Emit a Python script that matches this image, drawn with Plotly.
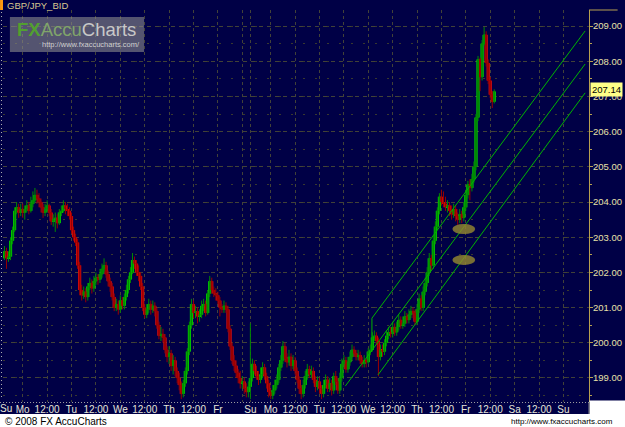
import plotly.graph_objects as go

# ---------------- data (hourly bars) ----------------
open_ = [
    202.40, 202.50, 202.60, 202.40, 202.45, 202.90, 203.20, 203.75, 203.85, 203.70,
    203.80, 203.70, 203.80, 203.90, 203.75, 203.95, 204.05, 204.20, 204.10, 204.00,
    203.85, 203.70, 203.80, 203.90, 203.70, 203.45, 203.50, 203.55, 203.40, 203.70,
    203.75, 203.90, 203.80, 203.75, 203.60, 203.20, 203.00, 202.85, 202.20, 201.50,
    201.35, 201.45, 201.30, 201.60, 201.70, 201.55, 201.75, 201.85, 201.80, 201.95,
    202.10, 202.20, 201.95, 201.75, 201.60, 201.30, 201.00, 201.10, 200.95, 201.20,
    201.05, 201.30, 201.50, 201.80, 202.00, 202.35, 202.25, 202.00, 201.90, 201.60,
    201.00, 200.80, 200.95, 201.10, 200.95, 201.05, 200.90, 200.50, 200.20, 200.25,
    200.15, 199.80, 199.60, 199.70, 199.35, 199.50, 199.20, 199.00, 198.80, 198.55,
    198.85, 199.20, 199.75, 200.50, 201.10, 200.85, 200.90, 200.75, 200.80, 201.05,
    201.10, 200.85, 201.40, 201.75, 201.50, 201.40, 201.35, 201.20, 201.00, 200.95,
    201.05, 200.95, 200.40, 199.90, 199.50, 199.35, 199.15, 199.00, 198.85, 198.90,
    198.70, 198.60, 198.75, 199.00, 199.40, 199.20, 199.05, 198.95, 199.10, 199.30,
    199.05, 198.85, 198.60, 198.50, 198.65, 198.80, 198.95, 199.30, 199.50, 199.90,
    199.55, 199.45, 199.60, 199.35, 199.50, 199.20, 198.95, 198.70, 198.55, 198.80,
    199.05, 199.25, 199.10, 199.20, 198.95, 198.75, 198.90, 198.70, 198.55, 198.80,
    198.95, 198.70, 198.85, 198.65, 199.05, 198.90, 198.65, 199.00, 199.40, 199.50,
    199.25, 199.45, 199.60, 199.80, 199.70, 199.60, 199.65, 199.50, 199.40, 199.50,
    199.45, 199.75, 199.80, 200.15, 200.20, 200.05, 199.60, 199.80, 199.75, 200.00,
    200.20, 200.30, 200.25, 200.45, 200.30, 200.45, 200.65, 200.50, 200.55, 200.75,
    200.65, 200.80, 200.90, 200.85, 200.60, 200.95, 201.25, 201.00, 201.45, 201.70,
    202.00, 202.40, 202.20, 202.90, 203.30, 203.75, 204.15, 204.00, 203.95, 203.85,
    203.90, 203.75, 203.65, 203.80, 203.60, 203.50, 203.65, 203.55, 203.85, 204.20,
    204.50, 204.40, 204.65, 205.00, 206.40, 208.05, 207.55, 208.50, 208.75, 207.95,
    207.45, 207.05, 206.85,
]
high = [
    202.70, 202.75, 202.70, 202.60, 203.00, 203.30, 203.85, 204.00, 203.95, 203.95,
    203.95, 203.90, 204.05, 204.00, 204.15, 204.30, 204.40, 204.35, 204.25, 204.10,
    203.95, 203.95, 204.05, 203.95, 203.80, 203.65, 203.70, 203.65, 203.80, 203.90,
    204.05, 204.00, 203.95, 203.85, 203.70, 203.30, 203.10, 202.95, 202.30, 201.65,
    201.60, 201.55, 201.70, 201.85, 201.80, 201.90, 202.00, 201.95, 202.10, 202.25,
    202.40, 202.30, 202.05, 201.85, 201.70, 201.40, 201.25, 201.20, 201.35, 201.30,
    201.40, 201.65, 201.90, 202.15, 202.55, 202.45, 202.35, 202.20, 202.00, 201.70,
    201.10, 201.10, 201.25, 201.20, 201.20, 201.15, 201.00, 200.60, 200.45, 200.40,
    200.25, 199.90, 199.90, 199.80, 199.65, 199.60, 199.30, 199.15, 198.90, 198.95,
    199.30, 199.85, 200.60, 201.25, 201.20, 201.05, 201.00, 200.95, 201.20, 201.25,
    201.20, 201.50, 201.90, 201.85, 201.60, 201.55, 201.45, 201.30, 201.10, 201.20,
    201.15, 201.05, 200.50, 200.00, 199.65, 199.50, 199.25, 199.20, 199.05, 199.00,
    198.85, 198.90, 200.55, 199.55, 199.50, 199.35, 199.20, 199.30, 199.45, 199.40,
    199.15, 198.95, 198.70, 198.80, 198.95, 199.10, 199.40, 199.65, 200.05, 200.00,
    199.70, 199.80, 199.70, 199.65, 199.60, 199.30, 199.05, 198.80, 198.95, 199.20,
    199.40, 199.35, 199.35, 199.30, 199.05, 199.05, 199.00, 198.80, 198.95, 199.10,
    199.05, 199.00, 198.95, 199.15, 199.20, 199.00, 199.15, 199.55, 199.65, 199.60,
    199.60, 199.75, 199.95, 199.90, 199.80, 199.80, 199.75, 199.60, 199.65, 199.55,
    199.85, 199.95, 200.30, 200.35, 200.30, 200.15, 199.95, 199.95, 200.10, 200.35,
    200.45, 200.45, 200.60, 200.55, 200.60, 200.80, 200.75, 200.75, 200.90, 200.85,
    200.95, 201.05, 201.00, 200.95, 201.10, 201.40, 201.35, 201.60, 201.85, 202.15,
    202.55, 202.50, 203.05, 203.45, 203.85, 204.25, 204.35, 204.30, 204.15, 204.05,
    204.00, 203.90, 203.95, 203.90, 203.70, 203.80, 203.75, 204.00, 204.35, 204.60,
    204.65, 204.80, 205.15, 206.50, 208.15, 208.10, 208.60, 208.97, 208.85, 208.05,
    207.55, 207.15, 207.20,
]
low = [
    202.20, 202.35, 202.10, 202.30, 202.35, 202.80, 203.15, 203.65, 203.55, 203.60,
    203.55, 203.50, 203.70, 203.65, 203.70, 203.85, 204.00, 203.95, 203.85, 203.70,
    203.55, 203.60, 203.70, 203.60, 203.35, 203.30, 203.15, 203.25, 203.35, 203.60,
    203.70, 203.65, 203.60, 203.50, 203.10, 202.90, 202.75, 202.10, 201.35, 201.20,
    201.25, 201.15, 201.20, 201.50, 201.40, 201.45, 201.65, 201.65, 201.70, 201.85,
    202.00, 201.85, 201.60, 201.45, 201.20, 200.90, 200.90, 200.80, 200.85, 200.95,
    200.95, 201.20, 201.40, 201.70, 201.95, 202.10, 201.90, 201.75, 201.50, 200.90,
    200.70, 200.70, 200.85, 200.80, 200.85, 200.75, 200.40, 200.10, 200.05, 200.00,
    199.70, 199.45, 199.40, 199.20, 199.10, 199.05, 198.85, 198.65, 198.40, 198.45,
    198.75, 199.10, 199.65, 200.40, 200.70, 200.70, 200.55, 200.60, 200.70, 200.90,
    200.75, 200.80, 201.30, 201.40, 201.30, 201.20, 201.10, 200.75, 200.85, 200.85,
    200.85, 200.30, 199.80, 199.40, 199.20, 199.00, 198.85, 198.70, 198.70, 198.55,
    198.45, 198.45, 198.40, 198.90, 199.10, 198.95, 198.80, 198.85, 199.00, 198.95,
    198.70, 198.45, 198.40, 198.40, 198.55, 198.70, 198.85, 199.20, 199.40, 199.45,
    199.30, 199.35, 199.20, 199.25, 199.10, 198.85, 198.55, 198.40, 198.45, 198.70,
    198.95, 199.00, 199.00, 198.85, 198.60, 198.65, 198.55, 198.40, 198.45, 198.70,
    198.60, 198.60, 198.50, 198.55, 198.80, 198.55, 198.55, 198.90, 199.30, 199.15,
    199.15, 199.35, 199.50, 199.60, 199.50, 199.50, 199.40, 199.30, 199.30, 199.30,
    199.40, 199.65, 199.75, 200.05, 199.95, 199.05, 199.50, 199.60, 199.65, 199.90,
    200.10, 200.15, 200.15, 200.20, 200.20, 200.35, 200.40, 200.40, 200.45, 200.55,
    200.55, 200.70, 200.70, 200.50, 200.50, 200.85, 200.90, 200.90, 201.35, 201.60,
    201.90, 202.05, 202.10, 202.80, 203.20, 203.65, 203.90, 203.85, 203.75, 203.70,
    203.60, 203.50, 203.55, 203.45, 203.35, 203.40, 203.40, 203.45, 203.75, 204.10,
    204.05, 204.30, 204.55, 204.90, 206.30, 207.15, 207.45, 208.45, 207.85, 207.35,
    206.95, 206.67, 206.80,
]
close = [
    202.50, 202.60, 202.40, 202.45, 202.90, 203.20, 203.75, 203.85, 203.70, 203.80,
    203.70, 203.80, 203.90, 203.75, 203.95, 204.05, 204.20, 204.10, 204.00, 203.85,
    203.70, 203.80, 203.90, 203.70, 203.45, 203.50, 203.55, 203.40, 203.70, 203.75,
    203.90, 203.80, 203.75, 203.60, 203.20, 203.00, 202.85, 202.20, 201.50, 201.35,
    201.45, 201.30, 201.60, 201.70, 201.55, 201.75, 201.85, 201.80, 201.95, 202.10,
    202.20, 201.95, 201.75, 201.60, 201.30, 201.00, 201.10, 200.95, 201.20, 201.05,
    201.30, 201.50, 201.80, 202.00, 202.35, 202.25, 202.00, 201.90, 201.60, 201.00,
    200.80, 200.95, 201.10, 200.95, 201.05, 200.90, 200.50, 200.20, 200.25, 200.15,
    199.80, 199.60, 199.70, 199.35, 199.50, 199.20, 199.00, 198.80, 198.55, 198.85,
    199.20, 199.75, 200.50, 201.10, 200.85, 200.90, 200.75, 200.80, 201.05, 201.10,
    200.85, 201.40, 201.75, 201.50, 201.40, 201.35, 201.20, 201.00, 200.95, 201.05,
    200.95, 200.40, 199.90, 199.50, 199.35, 199.15, 199.00, 198.85, 198.90, 198.70,
    198.60, 198.75, 199.00, 199.40, 199.20, 199.05, 198.95, 199.10, 199.30, 199.05,
    198.85, 198.60, 198.50, 198.65, 198.80, 198.95, 199.30, 199.50, 199.90, 199.55,
    199.45, 199.60, 199.35, 199.50, 199.20, 198.95, 198.70, 198.55, 198.80, 199.05,
    199.25, 199.10, 199.20, 198.95, 198.75, 198.90, 198.70, 198.55, 198.80, 198.95,
    198.70, 198.85, 198.65, 199.05, 198.90, 198.65, 199.00, 199.40, 199.50, 199.25,
    199.45, 199.60, 199.80, 199.70, 199.60, 199.65, 199.50, 199.40, 199.50, 199.45,
    199.75, 199.80, 200.15, 200.20, 200.05, 199.60, 199.80, 199.75, 200.00, 200.20,
    200.30, 200.25, 200.45, 200.30, 200.45, 200.65, 200.50, 200.55, 200.75, 200.65,
    200.80, 200.90, 200.85, 200.60, 200.95, 201.25, 201.00, 201.45, 201.70, 202.00,
    202.40, 202.20, 202.90, 203.30, 203.75, 204.15, 204.00, 203.95, 203.85, 203.90,
    203.75, 203.65, 203.80, 203.60, 203.50, 203.65, 203.55, 203.85, 204.20, 204.50,
    204.40, 204.65, 205.00, 206.40, 208.05, 207.55, 208.50, 208.75, 207.95, 207.45,
    207.05, 206.85, 207.14,
]
bar_no = list(range(len(close)))

# x axis: bar numbers of day / noon boundaries
x_tick_pos = [10, 22, 34, 46, 58, 70, 82, 94, 106, 118, 122,
              132, 144, 156, 168, 180, 192, 204, 216, 228, 240, 252, 264, 276]
x_tick_text = ["Mo", "12:00", "Tu", "12:00", "We", "12:00", "Th", "12:00", "Fr", "", "Su",
               "Mo", "12:00", "Tu", "12:00", "We", "12:00", "Th", "12:00", "Fr", "12:00",
               "Sa", "12:00", "Su"]
first_label_pos = 1.8
first_label_text = "Su"
x_range = [0.29, 288.6]

y_tick_vals = [199, 200, 201, 202, 203, 204, 205, 206, 207, 208, 209]
y_tick_text = ["199.00", "200.00", "201.00", "202.00", "203.00", "204.00",
               "205.00", "206.00", "207.00", "208.00", "209.00"]
y_range = [198.318, 209.455]
last_price = 207.14

# drawn channel (bar number, price)
chan_upper_x = [181.8, 286.7]
chan_upper_y = [200.70, 208.86]
chan_mid_x = [168.7, 286.7]
chan_mid_y = [198.77, 207.92]
chan_low_x = [184.8, 286.7]
chan_low_y = [199.09, 207.10]
chan_handle_x = [181.8, 181.8]
chan_handle_y = [200.70, 199.79]
mark_x = [227.0, 227.0]
mark_y = [203.23, 202.35]

# ---------------- styling ----------------
NAVY = "#000046"
GRID = "#424238"
GOLD = "#b8a050"
UP_BODY, UP_WICK = "#00e800", "#008a00"
DN_BODY, DN_WICK = "#f41010", "#9a0000"
NARROW = "Liberation Sans Narrow, Arial Narrow, Liberation Sans, Arial"
SANS = "Liberation Sans, Arial"

# page-pixel helpers for decorations (plot area spans x 3..597, y 10..402)
def pxx(px):
    return (px - 3) / 594.0

def pxy(py):
    return (402 - py) / 392.0

fig = go.Figure()
# wicks (and thin body) from the candlestick trace
fig.add_trace(go.Candlestick(
    x=bar_no, open=open_, high=high, low=low, close=close,
    increasing=dict(line=dict(color=UP_WICK, width=1), fillcolor=UP_WICK),
    decreasing=dict(line=dict(color=DN_WICK, width=1), fillcolor=DN_WICK),
    whiskerwidth=0, hoverinfo="skip", showlegend=False,
))
# wide bright candle bodies, open -> close
body_len = [c - o for o, c in zip(open_, close)]
body_col = [UP_BODY if c >= o else DN_BODY for o, c in zip(open_, close)]
fig.add_trace(go.Bar(
    x=bar_no, base=open_, y=body_len, width=1.55,
    marker=dict(color=body_col, line=dict(width=0)),
    hoverinfo="skip", showlegend=False,
))

for cx, cy in [(chan_upper_x, chan_upper_y), (chan_mid_x, chan_mid_y),
               (chan_low_x, chan_low_y), (chan_handle_x, chan_handle_y)]:
    fig.add_trace(go.Scatter(x=cx, y=cy, mode="lines",
                             line=dict(color="#00b400", width=1),
                             hoverinfo="skip", showlegend=False))

shapes = []
# yellow marks
for mx, my in zip(mark_x, mark_y):
    shapes.append(dict(type="circle", xref="x", yref="y",
                       x0=mx - 5.6, x1=mx + 5.6, y0=my - 0.142, y1=my + 0.142,
                       fillcolor="rgba(150,138,48,0.8)", line=dict(width=0), layer="above"))
# white page areas (footer + lower right corner)
shapes.append(dict(type="rect", xref="paper", yref="paper",
                   x0=pxx(-10), x1=pxx(640), y0=pxy(440), y1=pxy(414),
                   fillcolor="white", line=dict(width=0), layer="above"))
shapes.append(dict(type="rect", xref="paper", yref="paper",
                   x0=pxx(597.5), x1=pxx(640), y0=pxy(440), y1=pxy(400.5),
                   fillcolor="white", line=dict(width=0), layer="above"))
# x band top dotted line and right edge
shapes.append(dict(type="line", xref="paper", yref="paper",
                   x0=pxx(0), x1=pxx(597), y0=pxy(402.5), y1=pxy(402.5),
                   line=dict(color="#a0a0a0", width=1, dash="1px,2px"), layer="above"))
shapes.append(dict(type="line", xref="paper", yref="paper",
                   x0=pxx(597), x1=pxx(597), y0=pxy(402), y1=pxy(414),
                   line=dict(color="#8a8a8a", width=1), layer="above"))
# gold top edge of price scale
shapes.append(dict(type="line", xref="paper", yref="paper",
                   x0=pxx(597), x1=pxx(626), y0=pxy(10), y1=pxy(10),
                   line=dict(color=GOLD, width=1), layer="above"))
# left dotted edge
shapes.append(dict(type="line", xref="paper", yref="paper",
                   x0=pxx(1.5), x1=pxx(1.5), y0=pxy(12), y1=pxy(400),
                   line=dict(color="#b0b0b0", width=1, dash="1px,3px"), layer="above"))
# title marker
shapes.append(dict(type="rect", xref="paper", yref="paper",
                   x0=pxx(0), x1=pxx(3), y0=pxy(10), y1=pxy(0),
                   fillcolor="#ff9a10", line=dict(width=0), layer="above"))
# logo box
shapes.append(dict(type="rect", xref="paper", yref="paper",
                   x0=pxx(10), x1=pxx(146), y0=pxy(52), y1=pxy(17),
                   fillcolor="rgba(140,140,140,0.6)", line=dict(width=0), layer="above"))

annotations = [
    dict(xref="paper", yref="paper", x=pxx(5), y=pxy(5), xanchor="left", yanchor="middle",
         text="GBP/JPY_BID", showarrow=False,
         font=dict(family=NARROW, size=9.5, color="#d8c890")),
    dict(xref="paper", yref="paper", x=pxx(15), y=pxy(30), xanchor="left", yanchor="middle",
         text="<span style='color:#52a030'><b>FX</b></span>"
              "<span style='color:#80a46a'>Accu</span>"
              "<span style='color:#c8c8c8'>Charts</span>",
         showarrow=False, font=dict(family=SANS, size=18.5)),
    dict(xref="paper", yref="paper", x=pxx(40), y=pxy(44.5), xanchor="left", yanchor="middle",
         text="http://www.fxaccucharts.com/", showarrow=False,
         font=dict(family=SANS, size=7.5, color="#d0d0d0")),
    dict(xref="paper", yref="y", x=1.0, y=last_price, xanchor="left", yanchor="middle",
         xshift=1, yshift=2, text=f"{last_price:.2f}", showarrow=False, bgcolor="#ffff88",
         borderpad=1, font=dict(family=NARROW, size=9.5, color="black")),
    dict(xref="x", yref="paper", x=first_label_pos, y=pxy(408), xanchor="center",
         yanchor="middle", text=first_label_text, showarrow=False,
         font=dict(family=NARROW, size=10, color="#e6e6d8")),
    dict(xref="paper", yref="paper", x=pxx(3), y=pxy(421), xanchor="left", yanchor="middle",
         text="© 2008 FX AccuCharts", showarrow=False,
         font=dict(family=SANS, size=10, color="black")),
    dict(xref="paper", yref="paper", x=pxx(623), y=pxy(421), xanchor="right", yanchor="middle",
         text="http://www.fxaccucharts.com", showarrow=False,
         font=dict(family=SANS, size=8, color="black")),
]

fig.update_layout(
    width=625, height=427,
    margin=dict(l=3, r=28, t=10, b=25),
    paper_bgcolor=NAVY, plot_bgcolor=NAVY,
    showlegend=False, boxgap=0.3, barmode="overlay",
    shapes=shapes, annotations=annotations,
    xaxis=dict(
        range=x_range, tickmode="array", tickvals=x_tick_pos, ticktext=x_tick_text,
        showgrid=True, gridcolor=GRID, griddash="3px,3px", gridwidth=1,
        ticks="", showline=False, zeroline=False,
        tickfont=dict(family=NARROW, size=10, color="#e6e6d8"),
        rangeslider=dict(visible=False), fixedrange=True,
    ),
    yaxis=dict(
        side="right", range=y_range, tickmode="array",
        tickvals=y_tick_vals, ticktext=y_tick_text,
        showgrid=True, gridcolor=GRID, griddash="4px,4px", gridwidth=1,
        ticks="outside", ticklen=3, tickcolor=GOLD,
        showline=True, linecolor=GOLD, linewidth=1, zeroline=False,
        tickfont=dict(family=NARROW, size=9.5, color="#e8e0a8"),
        ticklabelstandoff=-2,
        minor=dict(dtick=0.5, tick0=0, showgrid=True, gridcolor="#38382f",
                   griddash="2px,10px", ticks="outside", ticklen=2, tickcolor=GOLD),
        fixedrange=True,
    ),
)

fig.write_html("out.html")
